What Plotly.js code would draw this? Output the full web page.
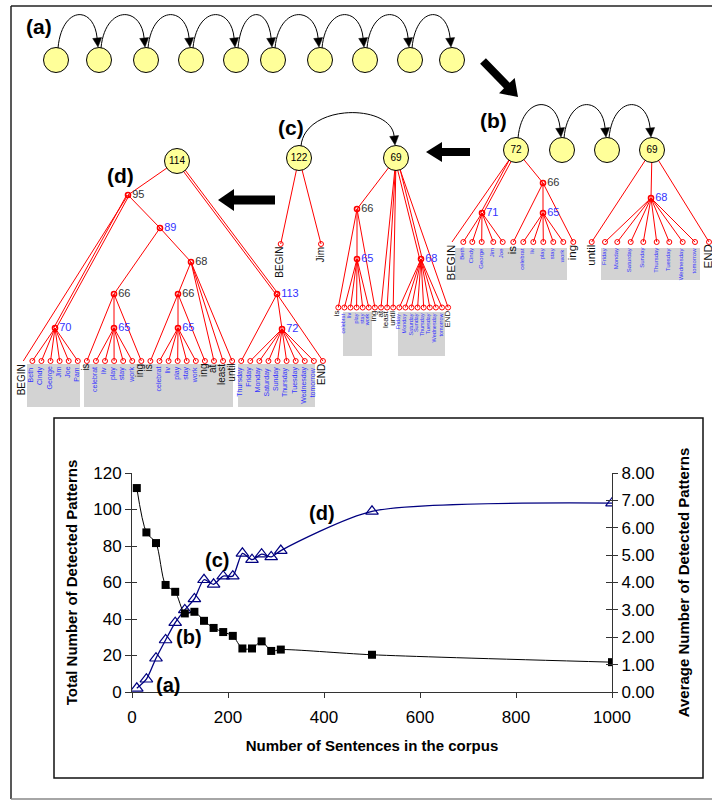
<!DOCTYPE html>
<html><head><meta charset="utf-8">
<script src="https://cdn.plot.ly/plotly-3.0.1.min.js"></script>
<style>html,body{margin:0;padding:0;background:#fff}#chart{width:712px;height:801px}</style>
</head><body><div id="chart"></div>
<script>
// ===================== Chart data =====================
const sentences     = [10,30,50,70,90,110,130,150,170,190,210,230,250,270,290,310,500,1000];
const totalPatterns = [2,7,18.5,28.5,38,45,51,61.5,59,63.5,63.5,76,72.5,75.5,74,77.5,99,103.5];
const avgPatterns   = [7.45,5.83,5.44,3.91,3.66,2.87,2.93,2.6,2.34,2.19,2.05,1.59,1.59,1.85,1.5,1.55,1.36,1.09];
const xTicks      = [0,200,400,600,800,1000];
const yLeftTicks  = [0,20,40,60,80,100,120];
const yRightTicks = [0,1,2,3,4,5,6,7,8];
const stageLabels = ['(a)','(b)','(c)','(d)'];

// ===================== Schematic (pattern trees) =====================
const rowA = {id:'A', xs:[56,99,146,191,236,273,320,365,410,452], names:['','','','','','','','','',''], y:60,  peak:16};
const rowB = {id:'B', xs:[516,562,607,652], names:['72','','','69'], y:150, peak:106};
const rowC = {id:'C', xs:[299,396], names:['122','69'], y:158, peak:114};
const rowD = {id:'D', xs:[177], names:['114'], y:161, peak:null};

const innerNodes = [ // id, x, y, label, blue
 ['b71',482,213,'71',1],['b66',543,183,'66',0],['b65',543,213,'65',1],['b68',651,198,'68',1],
 ['c66',357,209,'66',0],['c65',357,259,'65',1],['c68',421,259,'68',1],
 ['d95',128,195,'95',0],['d89',160,228,'89',1],['d68',191,262,'68',0],['d66a',114,294,'66',0],['d66b',178,294,'66',0],
 ['d70',55,328,'70',1],['d65a',114,328,'65',1],['d65b',178,328,'65',1],['d113',277,294,'113',1],['d72',282,329,'72',1]
];

const wordsBL = ['BEGIN','Beth','Cindy','George','Jim','Joe','is','celebrat','liv','play','stay','work','ing'];
const wordsBR = ['until','Friday','Monday','Saturday','Sunday','Thursday','Tuesday','Wednesday','tomorrow','END'];
const wordsCB = ['BEGIN','Jim'];
const wordsCL = ['is','celebrat','liv','play','stay','work','ing','at','least','until','Friday','Monday','Saturday','Sunday','Thursday','Tuesday','Wednesday','tomorrow','END'];
const wordsD  = ['BEGIN','Beth','Cindy','George','Jim','Joe','Pam','is','celebrat','liv','play','stay','work','ing','is','celebrat','liv','play','stay','work','ing','at','least','until','Thursday','Friday','Monday','Saturday','Sunday','Thursday','Tuesday','Wednesday','tomorrow','END'];

function spread(x0, step, n){ const a=[]; for(let i=0;i<n;i++) a.push(x0+step*i); return a; }
const leafGroups = [
 {pre:'bl', y:242, xs:[452,463.3,472.3,481.7,493.3,502.7,513.3,523.3,533.3,543.3,553.3,563.3,573.3], words:wordsBL, kinds:'Kbbbbbkbbbbbk', big:11.5, small:6},
 {pre:'br', y:242, xs:[591.7,605,617.3,630.7,643.3,656.7,669.3,682.7,695,709], words:wordsBR, kinds:'kbbbbbbbbk', big:11.5, small:6},
 {pre:'cb', y:244, xs:[280.7,321], words:wordsCB, kinds:'kk', big:10, small:6},
 {pre:'cl', y:307.5, xs:spread(338.3,6.1,19), words:wordsCL, kinds:'kbbbbbkkkkbbbbbbbbk', big:8, small:5.5},
 {pre:'dl', y:361, xs:spread(23.3,9.08,34), words:wordsD, kinds:'Kbbbbbbkbbbbbkkbbbbbkkkkbbbbbbbbbk', big:10, small:7}
];
const grayBoxes = [[455,248,567,280],[601,248,700,280],[343,312,372,356],[398,312,445,356],[27,364,80,407],[84,364,233,407],[238,364,315,407]];

const edges = [];
function E(a,b,m){ edges.push([a,b,m||1]); }
function fan(a,pre,i0,i1){ for(let i=i0;i<=i1;i++) E(a,pre+i); }
// (b)
E('B0','bl0'); E('B0','b71',2); E('B0','b66'); fan('b71','bl',1,5); E('b66','bl6'); E('b66','b65'); E('b66','bl12'); fan('b65','bl',7,11);
E('B3','br0'); E('B3','b68'); E('B3','br9'); fan('b68','br',1,8);
// (c)
E('C0','cb0'); E('C0','cb1');
E('C1','c66'); E('c66','cl0'); E('c66','c65'); E('c66','cl6'); fan('c65','cl',1,5);
E('C1','cl7'); E('C1','cl8'); E('C1','cl9'); E('C1','c68',2); fan('c68','cl',10,17); E('C1','cl18');
// (d)
E('D0','d95'); E('D0','d113',2);
E('d95','dl0'); E('d95','d70',2); E('d95','d89'); fan('d70','dl',1,6);
E('d89','d66a'); E('d89','d68');
E('d66a','dl7'); E('d66a','d65a'); E('d66a','dl13'); fan('d65a','dl',8,12);
E('d68','d66b'); E('d68','dl21'); E('d68','dl22'); E('d68','dl23');
E('d66b','dl14'); E('d66b','d65b'); E('d66b','dl20'); fan('d65b','dl',15,19);
E('d113','dl24'); E('d113','d72'); E('d113','dl33'); fan('d72','dl',25,32);

// ===================== Build =====================
const BLUE='#3333FF', RED='#FF0000', YEL='#FFFF99', INK='#111';
const pos = {};
[rowA,rowB,rowC,rowD].forEach(r=>r.xs.forEach((x,i)=>pos[r.id+i]=[x,r.y]));
innerNodes.forEach(n=>pos[n[0]]=[n[1],n[2]]);
leafGroups.forEach(g=>g.words.forEach((w,i)=>pos[g.pre+i]=[g.xs[i],g.y]));

const shapes=[], annotations=[], traces=[];
const D = {xref:'x3', yref:'y3'};

// frames
shapes.push(Object.assign({type:'line',x0:11,y0:6,x1:712,y1:6,line:{color:'#222',width:1.5}},D));
shapes.push(Object.assign({type:'line',x0:11,y0:6,x1:11,y1:799,line:{color:'#222',width:1.5}},D));
shapes.push(Object.assign({type:'line',x0:11,y0:799,x1:712,y1:799,line:{color:'#888',width:1.5}},D));
shapes.push(Object.assign({type:'rect',x0:54,y0:418,x1:703,y1:778,line:{color:'#111',width:1.5},fillcolor:'rgba(0,0,0,0)'},D));
grayBoxes.forEach(b=>shapes.push(Object.assign({type:'rect',x0:b[0],y0:b[1],x1:b[2],y1:b[3],line:{width:0},fillcolor:'#D3D3D3',layer:'below'},D)));

// arcs between consecutive circles
function f(v){return v.toFixed(1);}
[rowA,rowB,rowC].forEach(r=>{
  for(let i=0;i<r.xs.length-1;i++){
    const sx=r.xs[i]+2, sy=r.y-12, tx=r.xs[i+1]-1, ty=r.y-13;
    const cy=(r.peak-0.25*sy)/0.75;
    const c1x=sx+4, c2x=tx-4;
    let dx=tx-c2x, dy=ty-cy; const L=Math.hypot(dx,dy); dx/=L; dy/=L;
    const hl=9, hw=4.5;
    const bx=tx-dx*hl, by=ty-dy*hl, px=-dy, py=dx;
    shapes.push(Object.assign({type:'path',path:`M${f(sx)},${f(sy)} C${f(c1x)},${f(cy)} ${f(c2x)},${f(cy)} ${f(bx)},${f(by)}`,line:{color:'#000',width:1}},D));
    shapes.push(Object.assign({type:'path',path:`M${f(tx)},${f(ty)} L${f(bx+px*hw)},${f(by+py*hw)} L${f(bx-px*hw)},${f(by-py*hw)} Z`,fillcolor:'#000',line:{color:'#000',width:0.5}},D));
  }
});
// block arrows
function blockArrow(x0,y0,x1,y1,bw,hw,hl){
  const dx=x1-x0, dy=y1-y0, L=Math.hypot(dx,dy), ux=dx/L, uy=dy/L, px=-uy, py=ux;
  const bx=x1-ux*hl, by=y1-uy*hl;
  const p=[[x0+px*bw/2,y0+py*bw/2],[bx+px*bw/2,by+py*bw/2],[bx+px*hw/2,by+py*hw/2],[x1,y1],[bx-px*hw/2,by-py*hw/2],[bx-px*bw/2,by-py*bw/2],[x0-px*bw/2,y0-py*bw/2]];
  return 'M'+p.map(q=>f(q[0])+','+f(q[1])).join(' L')+' Z';
}
[[483,61,518,97,8,22,16],[470,152,426,152,8,20,16],[275,200,218,200,9,22,16]].forEach(a=>
  shapes.push(Object.assign({type:'path',path:blockArrow(...a),fillcolor:'#000',line:{width:0}},D)));

// edges
const ex=[], ey=[];
edges.forEach(([a,b,m])=>{
  const [x0,y0]=pos[a],[x1,y1]=pos[b];
  (m===2?[-1.3,1.3]:[0]).forEach(o=>{ex.push(x0+o,x1+o,null); ey.push(y0,y1,null);});
});
traces.push({x:ex,y:ey,xaxis:'x3',yaxis:'y3',mode:'lines',line:{color:RED,width:1},hoverinfo:'skip',showlegend:false});
// leaf markers
const lx=[], ly=[];
leafGroups.forEach(g=>g.words.forEach((w,i)=>{ if(g.kinds[i]!=='K'){lx.push(g.xs[i]); ly.push(g.y);} }));
traces.push({x:lx,y:ly,xaxis:'x3',yaxis:'y3',mode:'markers',marker:{symbol:'circle-open',size:5,color:RED,line:{width:1,color:RED}},hoverinfo:'skip',showlegend:false});
// inner nodes
traces.push({x:innerNodes.map(n=>n[1]),y:innerNodes.map(n=>n[2]),text:innerNodes.map(n=>n[3]),xaxis:'x3',yaxis:'y3',mode:'markers+text',
  textposition:'middle right',textfont:{size:11,color:innerNodes.map(n=>n[4]?BLUE:'#333')},
  marker:{symbol:'circle-open',size:5,color:RED,line:{width:1.6,color:RED}},hoverinfo:'skip',showlegend:false});
// circles
const cx=[],cy=[],ct=[];
[rowA,rowB,rowC,rowD].forEach(r=>r.xs.forEach((x,i)=>{cx.push(x);cy.push(r.y);ct.push(r.names[i]);}));
traces.push({x:cx,y:cy,text:ct,xaxis:'x3',yaxis:'y3',mode:'markers+text',textposition:'middle center',textfont:{size:10,color:'#000'},
  marker:{size:25,color:YEL,line:{color:'#000',width:1}},hoverinfo:'skip',showlegend:false});
// leaf labels
leafGroups.forEach(g=>g.words.forEach((w,i)=>{
  const blue=g.kinds[i]==='b';
  annotations.push(Object.assign({x:g.xs[i]-1.5,y:g.y+(blue?5:2),text:w,textangle:-90,xanchor:'center',yanchor:'top',showarrow:false,borderpad:0,
    font:{size:blue?g.small:g.big,color:blue?BLUE:INK}},D));
}));
// stage labels in schematic
[[39,26],[493,120],[291,127],[120,175]].forEach((p,i)=>annotations.push(Object.assign({x:p[0],y:p[1],text:'<b>'+stageLabels[i]+'</b>',showarrow:false,font:{size:21,color:'#000'}},D)));

// ===================== Chart traces =====================
traces.push({x:sentences,y:totalPatterns,xaxis:'x',yaxis:'y',name:'Total',mode:'lines+markers',
  line:{color:'#000080',width:1.3,shape:'spline',smoothing:0.7},
  marker:{symbol:'triangle-up-open',size:11,color:'#000080',line:{width:1.2,color:'#000080'}},showlegend:false});
traces.push({x:sentences,y:avgPatterns,xaxis:'x',yaxis:'y2',name:'Average',mode:'lines+markers',
  line:{color:'#000',width:1,shape:'spline',smoothing:0.8},
  marker:{symbol:'square',size:8,color:'#000'},showlegend:false});
traces.push({x:[null],y:[null],xaxis:'x',yaxis:'y4',showlegend:false,hoverinfo:'skip'});
traces.push({x:[null],y:[null],xaxis:'x',yaxis:'y5',showlegend:false,hoverinfo:'skip'});

// chart stage labels (data coordinates)
[[75,4],[119,30.3],[177,72.5],[396,98.3]].forEach((p,i)=>annotations.push({xref:'x',yref:'y',x:p[0],y:p[1],text:'<b>'+stageLabels[i]+'</b>',showarrow:false,font:{size:20,color:'#000'}}));

const axCol='#333';
const layout = {
  width:712,height:801,margin:{l:0,r:0,t:0,b:0},paper_bgcolor:'#fff',plot_bgcolor:'rgba(0,0,0,0)',
  font:{family:'"Liberation Sans", Arial, sans-serif',color:'#000'},showlegend:false,
  xaxis:{domain:[132/712,612/712],range:[0,1000],tickvals:xTicks,ticks:'outside',ticklen:5,tickcolor:axCol,showline:true,linecolor:axCol,linewidth:1,
    showgrid:false,zeroline:false,tickfont:{size:17},anchor:'y',ticklabelstandoff:5,
    title:{text:'<b>Number of Sentences in the corpus</b>',font:{size:15},standoff:14}},
  yaxis:{domain:[1-692/801,1-473/801],range:[0,120],tickvals:yLeftTicks,ticks:'outside',ticklen:6,tickcolor:axCol,showline:true,linecolor:axCol,linewidth:1,
    showgrid:false,zeroline:false,tickfont:{size:17},anchor:'x',
    title:{text:'<b>Total Number of Detected Patterns</b>',font:{size:15},standoff:11}},
  yaxis2:{overlaying:'y',side:'right',anchor:'x',range:[0,8],tickvals:yRightTicks,tickformat:'.2f',ticks:'outside',ticklen:5,tickcolor:axCol,showline:true,linecolor:axCol,linewidth:1,
    showgrid:false,zeroline:false,tickfont:{size:17},
    title:{text:'<b>Average Number of Detected Patterns</b>',font:{size:15},standoff:25}},
  yaxis4:{overlaying:'y',side:'right',anchor:'x',range:[0,8],tickvals:yRightTicks,ticks:'inside',ticklen:6,tickcolor:axCol,showticklabels:false,showline:false,showgrid:false,zeroline:false},
  yaxis5:{overlaying:'y',side:'left',anchor:'x',range:[0,120],tickvals:yLeftTicks,ticks:'inside',ticklen:5,tickcolor:axCol,showticklabels:false,showline:false,showgrid:false,zeroline:false},
  xaxis3:{domain:[0,1],range:[0,712],visible:false,anchor:'y3',fixedrange:true},
  yaxis3:{domain:[0,1],range:[801,0],visible:false,anchor:'x3',fixedrange:true},
  shapes:shapes,annotations:annotations
};
Plotly.newPlot('chart',traces,layout,{staticPlot:true,displayModeBar:false});
</script></body></html>
